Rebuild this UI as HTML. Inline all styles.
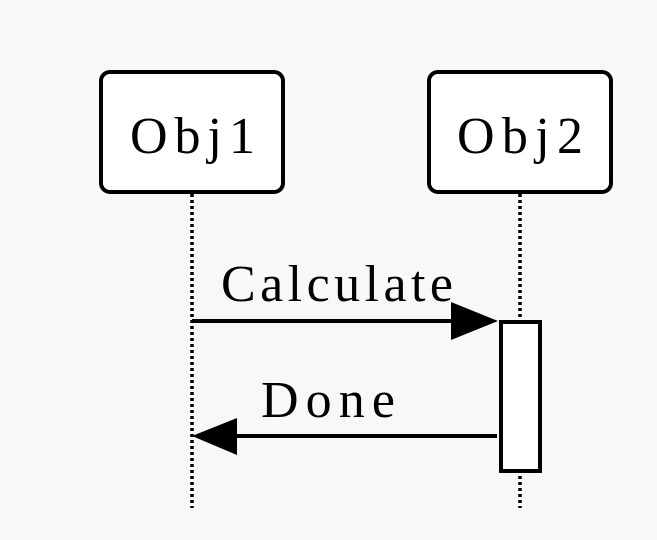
<!DOCTYPE html>
<html><head><meta charset="utf-8"><style>
html,body{margin:0;padding:0;background:#f8f8f8;}
svg{display:block;}
.t{font-family:"Liberation Serif","Noto Serif CJK SC",serif;font-size:52px;fill:#000;}
</style></head><body>
<svg width="657" height="540" viewBox="0 0 657 540" xmlns="http://www.w3.org/2000/svg">
<rect x="0" y="0" width="657" height="540" fill="#f8f8f8"/>
<line x1="192" y1="194" x2="192" y2="508" stroke="#000" stroke-width="3.5" stroke-dasharray="3,3"/>
<line x1="520" y1="194" x2="520" y2="508" stroke="#000" stroke-width="3.5" stroke-dasharray="3,3"/>
<rect x="101" y="72" width="182" height="120" rx="9" fill="#fff" stroke="#000" stroke-width="4"/>
<rect x="429" y="72" width="182" height="120" rx="9" fill="#fff" stroke="#000" stroke-width="4"/>
<text class="t" x="130" y="153" textLength="125" lengthAdjust="spacing">Obj1</text>
<text class="t" x="457" y="153" textLength="126" lengthAdjust="spacing">Obj2</text>
<text class="t" x="221" y="301" textLength="232" lengthAdjust="spacing">Calculate</text>
<text class="t" x="261" y="417" textLength="134" lengthAdjust="spacing">Done</text>
<rect x="501" y="322" width="39" height="149" fill="#fff" stroke="#000" stroke-width="4"/>
<line x1="192" y1="321" x2="460" y2="321" stroke="#000" stroke-width="4"/>
<polygon points="451,302 498,321 451,340" fill="#000"/>
<line x1="230" y1="436" x2="497" y2="436" stroke="#000" stroke-width="4"/>
<polygon points="237,418 192,436 237,455" fill="#000"/>
</svg>
</body></html>
